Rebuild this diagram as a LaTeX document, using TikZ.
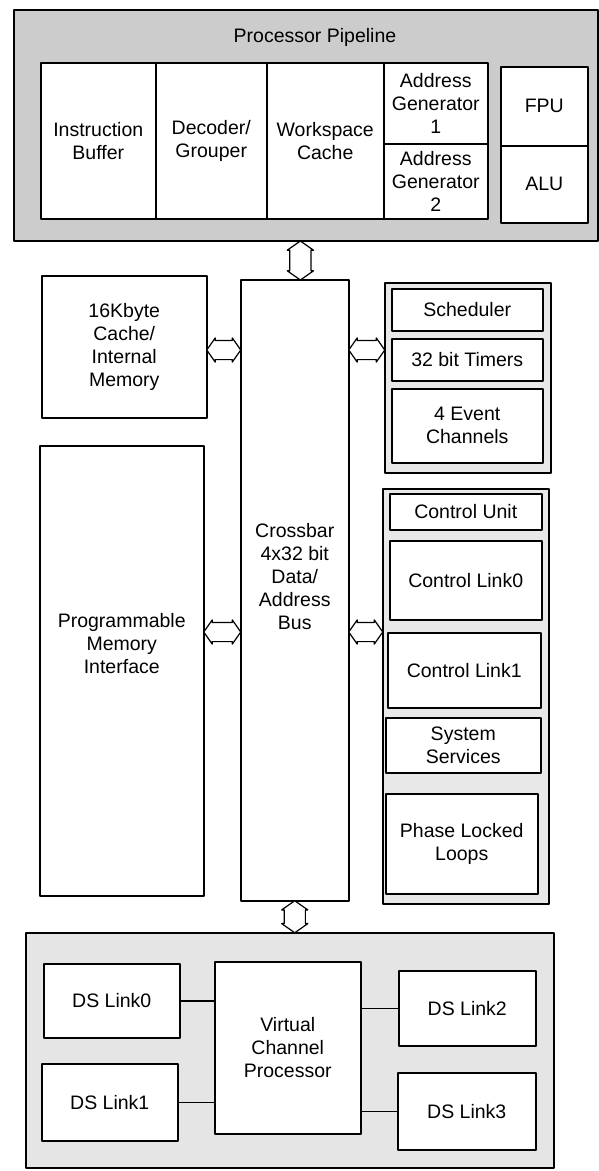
\documentclass[tikz,border=0pt]{standalone}
\usepackage{fontspec}
\setmainfont{Liberation Sans}
\usetikzlibrary{calc,shapes.arrows}

\begin{document}
\begin{tikzpicture}[x=1pt, y=-1pt, line join=round,
    font=\fontsize{19.5}{23}\selectfont,
    caja/.style={draw, fill=white, line width=1.5pt, align=center, inner sep=0pt, anchor=north west},
    grupo/.style={caja, fill=gray!18, line width=1.8pt},
    marco/.style={caja, line width=2pt},
    bus/.style={double arrow, draw, fill=white, line width=1.2pt, inner xsep=1pt, inner ysep=9pt,
        double arrow tip angle=110, double arrow head extend=2.5pt}]
    \useasboundingbox[fill=white] (0,0) rectangle (599,1171);
    % tubería del procesador
    \node[marco, fill=gray!40, minimum width=584pt, minimum height=231pt] (pipe) at (13,9) {};
    \node (pipetitle) at (315,37) {Processor Pipeline};
    \node[caja, minimum width=115pt, minimum height=156pt] (ibuf) at (40,62) {Instruction\\Buffer};
    \node[caja, minimum width=111pt, minimum height=156pt] (dec) at (155,62) {Decoder/\\Grouper};
    \node[caja, minimum width=117pt, minimum height=156pt] (wsc) at (266,62) {Workspace\\Cache};
    \node[caja, minimum width=104pt, minimum height=81pt] (ag1) at (383,62) {Address\\Generator\\1};
    \node[caja, minimum width=104pt, minimum height=75pt] (ag2) at (383,143) {Address\\Generator\\2};
    \node[caja, minimum width=87pt, minimum height=79pt] (fpu) at (500,66) {FPU};
    \node[caja, minimum width=87pt, minimum height=77pt] (alu) at (500,145) {ALU};
    % bloques centrales
    \node[caja, minimum width=165pt, minimum height=142pt] (mem) at (41,275) {16Kbyte\\Cache/\\Internal\\Memory};
    \node[caja, minimum width=108pt, minimum height=621pt] (xbar) at (240,279) {};
    \node[align=center] (xbarlbl) at ([yshift=14pt]xbar.center) {Crossbar\\4x32 bit\\Data/\\Address\\Bus};
    \node[caja, minimum width=164pt, minimum height=450pt] (pmi) at (39,445) {};
    \node[align=center] (pmilbl) at ([yshift=27pt]pmi.center) {Programmable\\Memory\\Interface};
    % grupo de temporizadores
    \node[grupo, minimum width=166pt, minimum height=190pt] (grp1) at (384,282) {};
    \node[caja, minimum width=151pt, minimum height=42pt] (sched) at (391,288) {Scheduler};
    \node[caja, minimum width=151pt, minimum height=42pt] (timers) at (391,338) {32 bit Timers};
    \node[caja, minimum width=151pt, minimum height=74pt] (events) at (391,388) {4 Event\\Channels};
    % grupo de control
    \node[grupo, minimum width=166pt, minimum height=415pt] (grp2) at (382,488) {};
    \node[caja, minimum width=152pt, minimum height=36pt] (cu) at (389,493) {Control Unit};
    \node[caja, minimum width=152pt, minimum height=79pt] (cl0) at (389,540) {Control Link0};
    \node[caja, minimum width=153pt, minimum height=75pt] (cl1) at (387,632) {Control Link1};
    \node[caja, minimum width=155pt, minimum height=55pt] (sys) at (385,717) {System\\Services};
    \node[caja, minimum width=152pt, minimum height=100pt] (pll) at (385,793) {Phase Locked\\Loops};
    % enlaces DS
    \node[marco, fill=gray!20, minimum width=528pt, minimum height=235pt] (dsbox) at (25,932) {};
    \node[caja, minimum width=136pt, minimum height=74pt] (ds0) at (43,963) {DS Link0};
    \node[caja, minimum width=136pt, minimum height=77pt] (ds1) at (41,1063) {DS Link1};
    \node[caja, minimum width=146pt, minimum height=172pt] (vcp) at (214,961) {Virtual\\Channel\\Processor};
    \node[caja, minimum width=137pt, minimum height=75pt] (ds2) at (398,970) {DS Link2};
    \node[caja, minimum width=138pt, minimum height=77pt] (ds3) at (397,1072) {DS Link3};
    \draw[line width=1.5pt] (ds0.east) -- (ds0.east -| vcp.west);
    \draw[line width=1.5pt] (ds1.east) -- (ds1.east -| vcp.west);
    \draw[line width=1.5pt] (ds2.west) -- (ds2.west -| vcp.east);
    \draw[line width=1.5pt] (ds3.west) -- (ds3.west -| vcp.east);
    % buses
    \coordinate (bus1) at (0,350);
    \coordinate (bus2) at (0,632);
    \node[bus, minimum height=34pt] (b1l) at ($(mem.east |- bus1)!0.5!(xbar.west |- bus1)$) {};
    \node[bus, minimum height=36pt] (b1r) at ($(xbar.east |- bus1)!0.5!(grp1.west |- bus1)$) {};
    \node[bus, minimum height=37pt] (b2l) at ($(pmi.east |- bus2)!0.5!(xbar.west |- bus2)$) {};
    \node[bus, minimum height=34pt] (b2r) at ($(xbar.east |- bus2)!0.5!(grp2.west |- bus2)$) {};
    \node[bus, rotate=90, inner ysep=10pt, minimum height=39pt] (btop) at ($(pipe.south)!0.5!(xbar.north)$) {};
    \node[bus, rotate=90, inner ysep=10pt, minimum height=32pt] (bbot) at ($(xbar.south)!0.5!(xbar.south |- dsbox.north)$) {};
\end{tikzpicture}
\end{document}
